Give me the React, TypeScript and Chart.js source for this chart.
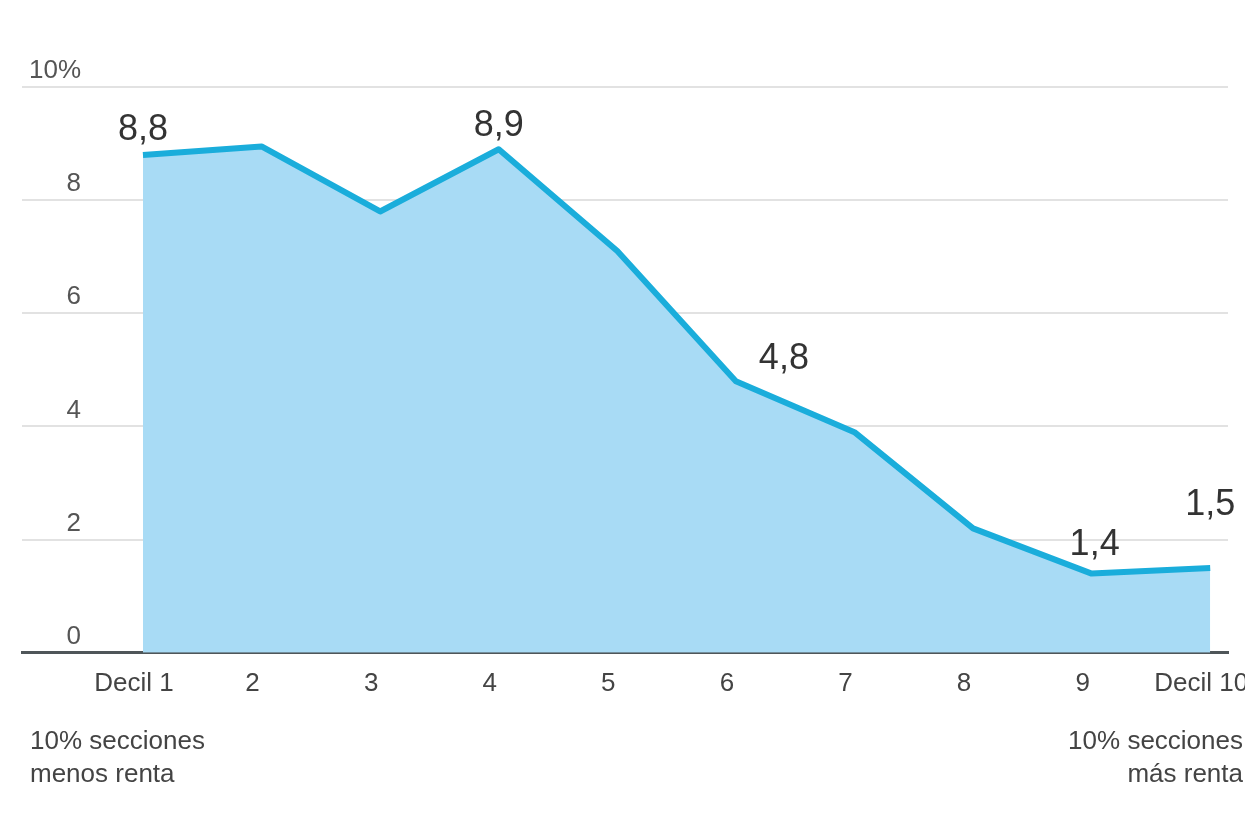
import { useEffect, useRef } from "react";
import { Chart, registerables } from "chart.js";

Chart.register(...registerables);

// ---- data ----
const categories = ["Decil 1", "2", "3", "4", "5", "6", "7", "8", "9", "Decil 10"];
const values = [8.8, 8.95, 7.8, 8.9, 7.1, 4.8, 3.9, 2.2, 1.4, 1.5];
const yTickValues = [0, 2, 4, 6, 8, 10];
const yTickLabels = ["0", "2", "4", "6", "8", "10%"];
const labeledPoints = [0, 3, 5, 8, 9];
const noteLeft = ["10% secciones", "menos renta"];
const noteRight = ["10% secciones", "más renta"];

// ---- style ----
const FONT = "'Liberation Sans', Arial, sans-serif";
const LINE_COLOR = "#1aaddb";
const FILL_COLOR = "#a8dbf5";
const GRID_COLOR = "#e2e2e2";
const AXIS_COLOR = "#4f5659";
const labelShift: [number, number][] = [
  [0, -15],
  [0, -13],
  [48, -12],
  [3, -19],
  [0, -53],
];

const annotationPlugin = {
  id: "annotations",
  afterDraw(chart: any) {
    const ctx = chart.ctx as CanvasRenderingContext2D;
    const meta = chart.getDatasetMeta(0);
    ctx.save();
    ctx.fillStyle = "#333";
    ctx.font = `36px ${FONT}`;
    ctx.textAlign = "center";
    ctx.textBaseline = "alphabetic";
    labeledPoints.forEach((idx, k) => {
      const pt = meta.data[idx];
      const txt = values[idx].toFixed(1).replace(".", ",");
      ctx.fillText(txt, pt.x + labelShift[k][0], pt.y + labelShift[k][1]);
    });

    const area = chart.chartArea;
    ctx.font = `26px ${FONT}`;
    ctx.fillStyle = "#444";
    ctx.textAlign = "left";
    noteLeft.forEach((t, i) => ctx.fillText(t, area.left + 8, area.bottom + 96 + i * 33));
    ctx.textAlign = "right";
    noteRight.forEach((t, i) => ctx.fillText(t, chart.width - 2, area.bottom + 96 + i * 33));
    ctx.restore();
  },
};

export default function App() {
  const ref = useRef<HTMLCanvasElement | null>(null);

  useEffect(() => {
    if (!ref.current) return;
    const chart = new Chart(ref.current, {
      type: "line",
      data: {
        datasets: [
          {
            data: values.map((v, i) => ({ x: i + 1, y: v })),
            borderColor: LINE_COLOR,
            backgroundColor: FILL_COLOR,
            borderWidth: 6,
            fill: "origin",
            pointRadius: 0,
            pointHoverRadius: 0,
            tension: 0,
            borderJoinStyle: "round",
            borderCapStyle: "butt",
          },
        ],
      },
      options: {
        animation: false,
        responsive: false,
        maintainAspectRatio: false,
        events: [],
        layout: { padding: { top: 87, left: 8, right: 17, bottom: 102 } },
        plugins: {
          legend: { display: false },
          tooltip: { enabled: false },
          title: { display: false },
        },
        scales: {
          x: {
            type: "linear",
            min: -0.02,
            max: 10.15,
            z: 1,
            afterBuildTicks: (axis: any) => {
              axis.ticks = categories.map((_, i) => ({ value: i + 1 }));
            },
            afterFit: (axis: any) => {
              axis.paddingLeft = 0;
              axis.paddingRight = 0;
            },
            grid: { display: false, drawTicks: false },
            border: { display: true, color: AXIS_COLOR, width: 3 },
            ticks: {
              autoSkip: false,
              maxRotation: 0,
              minRotation: 0,
              padding: 15,
              labelOffset: -9,
              color: "#444",
              font: { family: FONT, size: 26 },
              callback: (v: any) => categories[Number(v) - 1] ?? "",
            },
          },
          y: {
            min: 0,
            max: 10,
            afterBuildTicks: (axis: any) => {
              axis.ticks = yTickValues.map((v) => ({ value: v }));
            },
            grid: { color: GRID_COLOR, lineWidth: 2, drawTicks: false },
            border: { display: false },
            ticks: {
              mirror: true,
              crossAlign: "far",
              padding: 7,
              labelOffset: -16,
              color: "#555",
              font: { family: FONT, size: 26 },
              callback: (v: any) => {
                const i = yTickValues.indexOf(Number(v));
                return i >= 0 ? yTickLabels[i] : "";
              },
            },
          },
        },
      },
      plugins: [annotationPlugin],
    } as any);
    return () => chart.destroy();
  }, []);

  return (
    <div style={{ position: "absolute", left: 0, top: 0, width: 1245, height: 816, background: "#fff" }}>
      <canvas ref={ref} width={1245} height={816} style={{ width: 1245, height: 816, display: "block" }} />
    </div>
  );
}
